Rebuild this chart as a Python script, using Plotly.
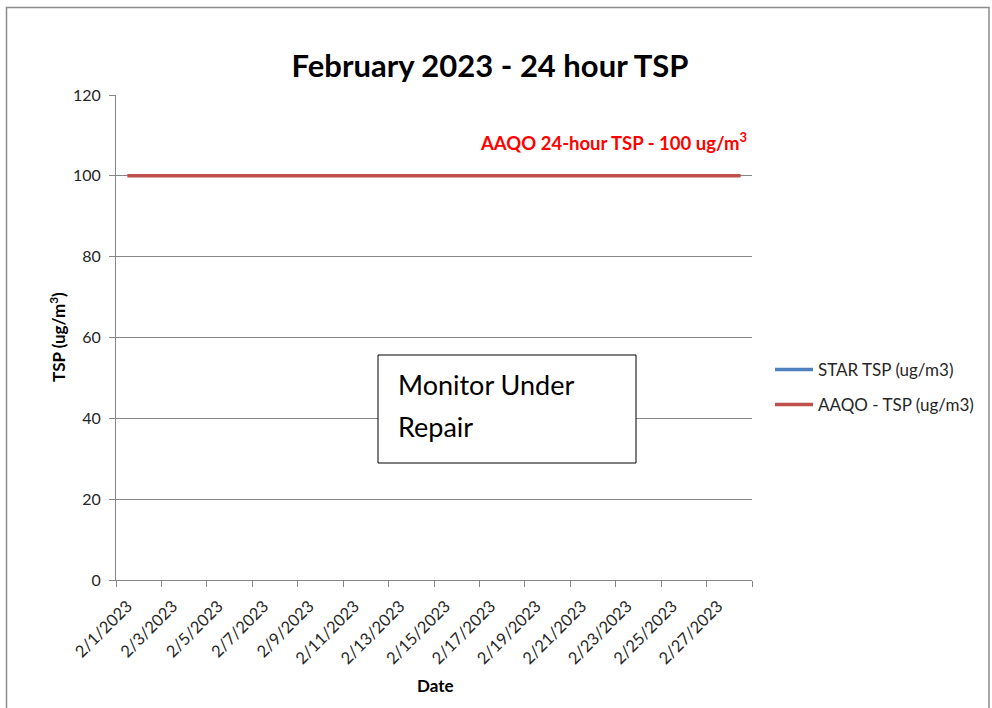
import plotly.graph_objects as go
import pandas as pd

# ---- data ----
dates = [f"2023-02-{d:02d}" for d in range(1, 29)]
star_tsp = [None, None, None, None, None, None, None, None, None, None, None, None, None, None,
            None, None, None, None, None, None, None, None, None, None, None, None, None, None]
aaqo_tsp = [100, 100, 100, 100, 100, 100, 100, 100, 100, 100, 100, 100, 100, 100,
            100, 100, 100, 100, 100, 100, 100, 100, 100, 100, 100, 100, 100, 100]
tick_dates = dates[::2]
tick_labels = [f"2/{int(d[-2:])}/2023" for d in tick_dates]
y_ticks = [0, 20, 40, 60, 80, 100, 120]

FONT = "Lato, Carlito, Calibri, sans-serif"
GRID = "#868686"
TXT = "#262626"

W, H = 992, 708
L, R, T, B = 116, 752, 95, 580

def px(x):
    return (x - L) / (R - L)

def py(y):
    return (B - y) / (B - T)

dt = pd.to_datetime(dates)
half = pd.Timedelta(hours=12)
bounds = [(d - half).strftime("%Y-%m-%d %H:%M") for d in dt[::2]] + [(dt[-1] + half).strftime("%Y-%m-%d %H:%M")]

fig = go.Figure()
fig.add_trace(go.Scatter(x=dates, y=star_tsp, mode="lines", name="STAR TSP (ug/m3)",
                         line=dict(color="#4F81BD", width=3.5), legend="legend"))
fig.add_trace(go.Scatter(x=dates, y=aaqo_tsp, mode="lines", name="AAQO - TSP (ug/m3)",
                         line=dict(color="#C0504D", width=3.5), legend="legend2"))

leg_common = dict(xanchor="left", yanchor="middle", itemwidth=38, bgcolor="rgba(0,0,0,0)",
                  font=dict(family=FONT, size=17, color=TXT))

fig.update_layout(
    width=W, height=H,
    margin=dict(l=L, r=W - R, t=T, b=H - B, autoexpand=False),
    paper_bgcolor="white", plot_bgcolor="white",
    font=dict(family=FONT, size=16, color="#000000"),
    showlegend=True,
    legend=dict(x=px(770), y=py(370), **leg_common),
    legend2=dict(x=px(770), y=py(405), **leg_common),
    xaxis=dict(
        type="date",
        range=[bounds[0], bounds[-1]],
        tickmode="array", tickvals=tick_dates, ticktext=tick_labels,
        tickangle=-45, ticks="", showgrid=False,
        showline=True, linecolor=GRID, linewidth=1,
        tickfont=dict(family=FONT, size=16.5, color=TXT),
        ticklabelstandoff=9,
        minor=dict(tickmode="array", tickvals=bounds, ticks="outside", ticklen=6,
                   tickcolor=GRID, showgrid=False),
        zeroline=False,
    ),
    yaxis=dict(
        range=[0, 120], tickmode="array", tickvals=y_ticks,
        ticks="outside", ticklen=6, tickcolor=GRID,
        showgrid=True, gridcolor=GRID, gridwidth=1,
        showline=True, linecolor=GRID, linewidth=1,
        zeroline=False,
        ticklabelstandoff=5,
        tickfont=dict(family=FONT, size=16, color=TXT),
    ),
    title=dict(text="<b>February 2023 - 24 hour TSP</b>", x=490 / W, xanchor="center",
               y=1 - 66 / H, yanchor="middle",
               font=dict(family=FONT, size=31, color="#000000")),
)

# axis titles
fig.add_annotation(x=px(435), y=py(685), xref="paper", yref="paper", xanchor="center", yanchor="middle",
                   text="<b>Date</b>", showarrow=False, font=dict(family=FONT, size=17, color="#000000"))
fig.add_annotation(x=px(57), y=py(337), xref="paper", yref="paper", xanchor="center", yanchor="middle",
                   text="<b>TSP (ug/m<sup>3</sup>)</b>", textangle=-90, showarrow=False,
                   font=dict(family=FONT, size=17, color="#000000"))

# threshold label
fig.add_annotation(x=px(749), y=py(141), xref="paper", yref="paper", xanchor="right", yanchor="middle",
                   text="<b>AAQO 24-hour TSP - 100 ug/m<sup>3</sup></b>", showarrow=False,
                   font=dict(family=FONT, size=18.5, color="#FF0000"))

# text box
fig.add_shape(type="rect", xref="paper", yref="paper", x0=px(378), x1=px(636), y0=py(463), y1=py(355),
              line=dict(color="#000000", width=1), fillcolor="white", layer="above")
fig.add_annotation(x=px(396), y=py(384), xref="paper", yref="paper", xanchor="left", yanchor="middle",
                   text="Monitor Under", showarrow=False, font=dict(family=FONT, size=27, color="#000000"))
fig.add_annotation(x=px(396), y=py(426), xref="paper", yref="paper", xanchor="left", yanchor="middle",
                   text="Repair", showarrow=False, font=dict(family=FONT, size=27, color="#000000"))

# outer chart border
fig.add_shape(type="rect", xref="paper", yref="paper", x0=px(6.5), x1=px(989), y0=py(760), y1=py(7.5),
              line=dict(color="#8C8C8C", width=1.5), fillcolor="rgba(0,0,0,0)", layer="below")

fig.write_html("out.html", config=dict(displayModeBar=False),
               post_script="document.body.style.margin='0';document.body.style.overflow='hidden';")
